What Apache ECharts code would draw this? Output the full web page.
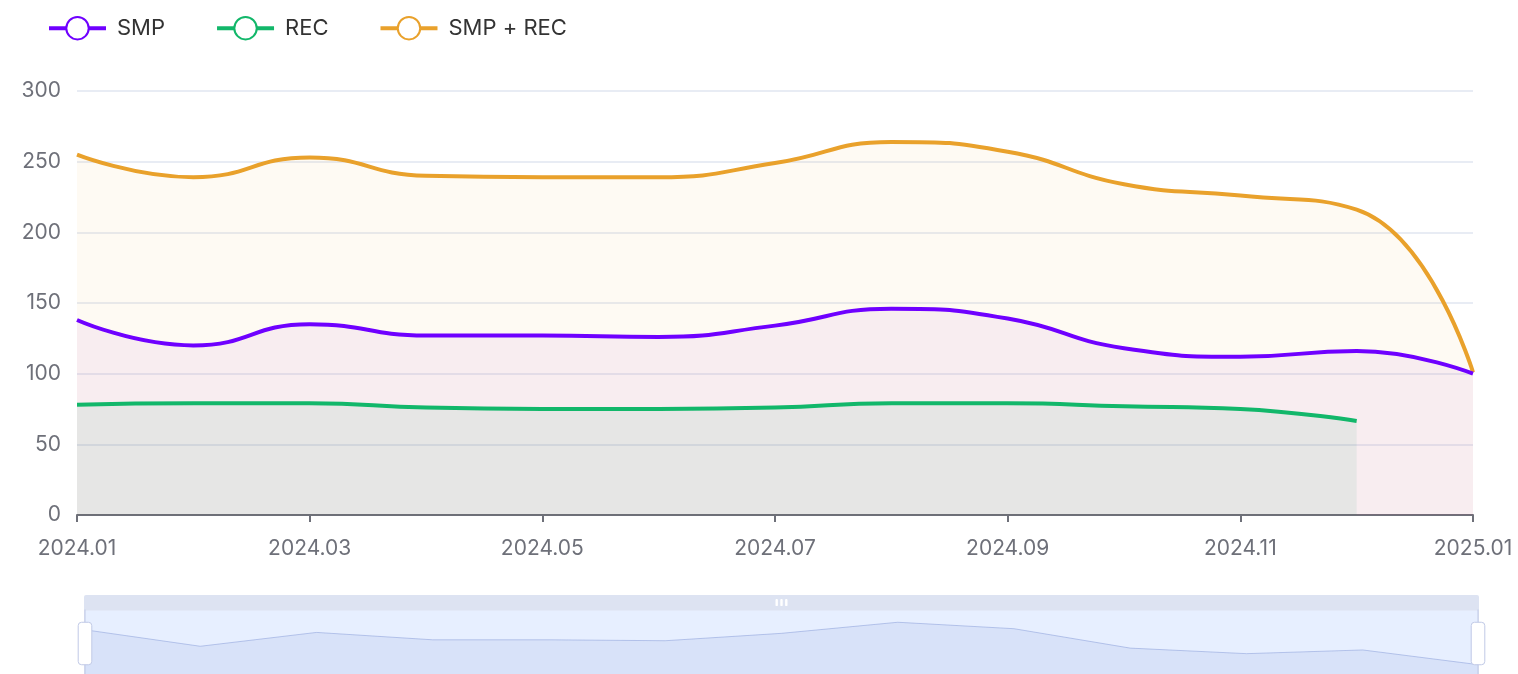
<!DOCTYPE html>
<html>
<head>
<meta charset="utf-8">
<script src="https://cdn.jsdelivr.net/npm/echarts@6/dist/echarts.min.js"></script>
<style>
html,body{margin:0;padding:0;background:#fff;}
#chart{width:1518px;height:674px;}
</style>
</head>
<body>
<div id="chart"></div>
<script>
const categories = ['2024.01','2024.02','2024.03','2024.04','2024.05','2024.06','2024.07','2024.08','2024.09','2024.10','2024.11','2024.12','2025.01'];
const smp = [138, 120, 135, 127, 127, 126, 134, 146, 139, 118, 112, 116, 100];
const rec = [78, 79, 79, 76, 75, 75, 76, 79, 79, 77, 75, 66.5, null];
const smpRec = [255, 239, 253, 240, 239, 239, 249, 264, 257, 234, 226, 216, 101];
const yTicks = {min: 0, max: 300, interval: 50};

const FONT = 'Inter, "Noto Sans", sans-serif';
const chart = echarts.init(document.getElementById('chart'));
chart.setOption({
  animation: false,
  textStyle: {fontFamily: FONT},
  legend: {
    left: 42, top: 11,
    itemWidth: 57, itemHeight: 28, itemGap: 50,
    lineStyle: {width: 4},
    itemStyle: {borderWidth: 3.5},
    textStyle: {fontSize: 22, color: '#333', fontFamily: FONT, padding: [0, 0, 0, 6]},
    data: ['SMP', 'REC', 'SMP + REC']
  },
  grid: {left: 77, right: 45, top: 91, bottom: 159},
  xAxis: {
    type: 'category',
    data: categories,
    boundaryGap: false,
    axisLine: {lineStyle: {color: '#6E7079', width: 2}},
    axisTick: {length: 7, lineStyle: {width: 2}, interval: 1},
    axisLabel: {interval: 1, fontSize: 21, color: '#6E7079', margin: 23, fontFamily: FONT}
  },
  yAxis: {
    type: 'value',
    min: yTicks.min, max: yTicks.max, interval: yTicks.interval,
    axisLabel: {fontSize: 21, color: '#6E7079', margin: 16, fontFamily: FONT},
    splitLine: {lineStyle: {color: '#E0E6F1', width: 1.5}}
  },
  dataZoom: [{
    type: 'slider', xAxisIndex: 0, start: 0, end: 100,
    left: 78, right: 45, top: 595, height: 68,
    moveHandleSize: 15,
    moveHandleStyle: {color: '#dde3f2', opacity: 1},
    showDetail: false
  }],
  series: [
    {
      name: 'SMP', type: 'line', data: smp, smooth: true, showSymbol: false, z: 3,
      lineStyle: {width: 4, color: '#6F00FF'},
      itemStyle: {color: '#6F00FF'},
      areaStyle: {color: 'rgba(140,0,200,0.075)'}
    },
    {
      name: 'REC', type: 'line', data: rec, smooth: true, showSymbol: false, z: 4,
      lineStyle: {width: 4, color: '#12B76A'},
      itemStyle: {color: '#12B76A'},
      areaStyle: {color: 'rgba(40,150,110,0.12)'}
    },
    {
      name: 'SMP + REC', type: 'line', data: smpRec, smooth: true, showSymbol: false, z: 2,
      lineStyle: {width: 4, color: '#E9A12B'},
      itemStyle: {color: '#E9A12B'},
      areaStyle: {color: 'rgba(232,160,42,0.08)'}
    }
  ]
});
</script>
</body>
</html>
